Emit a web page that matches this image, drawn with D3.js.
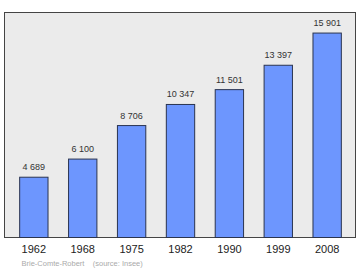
<!DOCTYPE html>
<html>
<head>
<meta charset="utf-8">
<script src="https://cdn.jsdelivr.net/npm/d3@7"></script>
<style>
  body { margin: 0; background: #fff; }
  svg { display: block; font-family: "Liberation Sans", Arial, sans-serif; }
</style>
</head>
<body>
<svg id="chart" width="360" height="270"></svg>
<script>
const years = ["1962", "1968", "1975", "1982", "1990", "1999", "2008"];
const population = [4689, 6100, 8706, 10347, 11501, 13397, 15901];
const valueLabels = ["4 689", "6 100", "8 706", "10 347", "11 501", "13 397", "15 901"];
const caption = "Brie-Comte-Robert    (source: Insee)";

const frame = { left: 4.5, top: 12.5, right: 355.5, bottom: 237.5 };

const svg = d3.select("#chart");

// plot background and frame
svg.append("rect")
  .attr("x", frame.left)
  .attr("y", frame.top)
  .attr("width", frame.right - frame.left)
  .attr("height", frame.bottom - frame.top)
  .attr("fill", "#ebebeb")
  .attr("stroke", "#444")
  .attr("stroke-width", 1);

const x = d3.scaleBand()
  .domain(years)
  .range([frame.left + 0.5, frame.right + 0.5])
  .paddingInner(0.42)
  .paddingOuter(0.3);

const y = d3.scaleLinear()
  .domain([0, 17500])
  .range([frame.bottom, frame.top]);

// bars
svg.selectAll(".bar")
  .data(population)
  .enter()
  .append("rect")
  .attr("class", "bar")
  .attr("x", (d, i) => x(years[i]))
  .attr("y", (d) => y(d))
  .attr("width", x.bandwidth())
  .attr("height", (d) => frame.bottom - y(d))
  .attr("fill", "#6d96fe")
  .attr("stroke", "#2a3450")
  .attr("stroke-width", 1);

// value labels above bars
svg.selectAll(".value")
  .data(population)
  .enter()
  .append("text")
  .attr("class", "value")
  .attr("x", (d, i) => x(years[i]) + x.bandwidth() / 2)
  .attr("y", (d) => y(d) - 7)
  .attr("text-anchor", "middle")
  .style("font-size", "9px")
  .attr("fill", "#333")
  .text((d, i) => valueLabels[i]);

// x axis labels
const axis = svg.append("g")
  .attr("transform", `translate(0,${frame.bottom})`)
  .call(d3.axisBottom(x).tickSize(0).tickPadding(8));
axis.select(".domain").remove();
axis.selectAll("text")
  .style("font-size", "11px")
  .style("font-family", "Liberation Sans, Arial, sans-serif")
  .attr("fill", "#222");

// caption
svg.append("text")
  .attr("x", 21.5)
  .attr("y", 265.5)
  .style("font-size", "7.5px")
  .style("white-space", "pre")
  .attr("xml:space", "preserve")
  .attr("fill", "#aaa")
  .text(caption);
</script>
</body>
</html>
